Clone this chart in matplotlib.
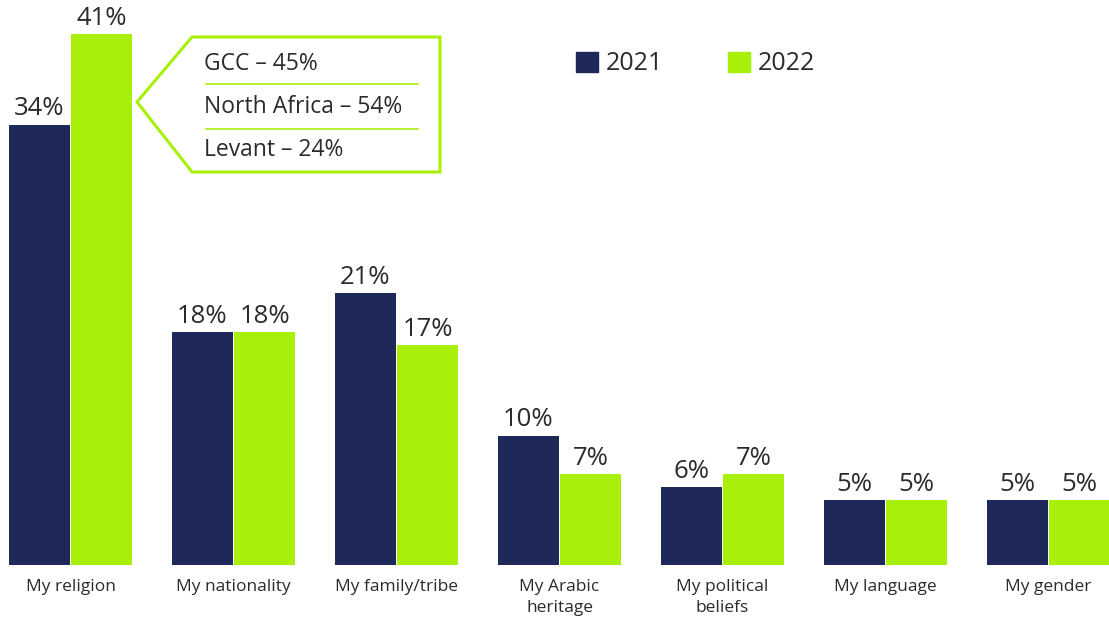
import matplotlib.pyplot as plt
import numpy as np
from matplotlib.patches import Polygon, Patch
from matplotlib.lines import Line2D

plt.rcParams['font.family'] = ['Open Sans', 'DejaVu Sans']

categories = ['My religion', 'My nationality', 'My family/tribe', 'My Arabic\nheritage',
              'My political\nbeliefs', 'My language', 'My gender']
vals_2021 = [34, 18, 21, 10, 6, 5, 5]
vals_2022 = [41, 18, 17, 7, 7, 5, 5]
callout_lines = ['GCC \u2013 45%', 'North Africa \u2013 54%', 'Levant \u2013 24%']

navy = '#1e2859'
green = '#a8f00a'
txt = '#2b2b2b'

W, H = 1109, 619
fig = plt.figure(figsize=(W / 100, H / 100), dpi=100)
ax = fig.add_axes([0, 54 / H, 1, 565 / H])

x = np.arange(len(categories))
w = 0.376
off = 0.191
b1 = ax.bar(x - off, vals_2021, w, color=navy)
b2 = ax.bar(x + off, vals_2022, w, color=green)

for bars in (b1, b2):
    for r in bars:
        ax.text(r.get_x() + r.get_width() / 2, r.get_height() + 0.25, f'{int(r.get_height())}%',
                ha='center', va='bottom', fontsize=18.5, color=txt)

ax.set_xlim(-70.5 / 163, (W - 70.5) / 163)
ax.set_ylim(0, 565 / 12.95)
ax.set_xticks(x)
ax.set_xticklabels(categories, fontsize=12.5, color=txt, linespacing=1.4, va='top')
ax.tick_params(axis='x', length=0, pad=10)
ax.set_yticks([])
for s in ax.spines.values():
    s.set_visible(False)

# callout box (pixel coords -> figure fraction)
def fp(px, py):
    return (px / W, 1 - py / H)

pts = [fp(137, 102), fp(192, 37), fp(440, 37), fp(440, 172), fp(192, 172)]
fig.patches.append(Polygon(pts, closed=True, fill=False, edgecolor=green, lw=2.2,
                           transform=fig.transFigure))
for yy in (84, 129):
    (x0, y0), (x1, y1) = fp(206, yy), fp(418, yy)
    fig.lines.append(Line2D([x0, x1], [y0, y1], color=green, lw=1.2, transform=fig.transFigure))
for t, yy in zip(callout_lines, (64, 107, 150)):
    fig.text(204 / W, 1 - yy / H, t, ha='left', va='center', fontsize=16.5, color=txt)

handles = [Patch(color=navy, label='2021'), Patch(color=green, label='2022')]
fig.legend(handles=handles, loc='center left', bbox_to_anchor=fp(553, 64), ncol=2,
           frameon=False, fontsize=18, handlelength=0.9, handleheight=0.9,
           handletextpad=0.3, columnspacing=2.6, labelcolor=txt)

fig.savefig('out.png', dpi=100)
